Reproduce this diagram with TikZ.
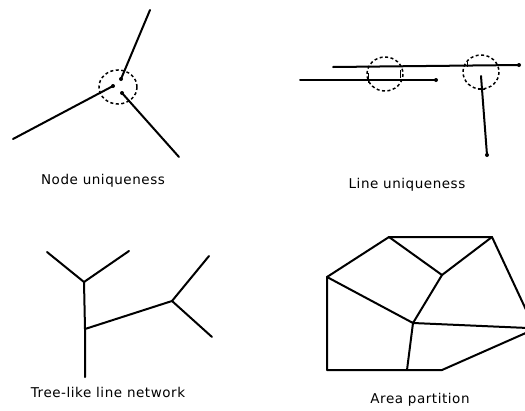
\documentclass[tikz,border=0pt]{standalone}
\usepackage{fontspec}
\setmainfont[LetterSpace=4]{DejaVu Sans}
\begin{document}
\begin{tikzpicture}[x=1pt,y=-1pt,
  edge/.style={line width=2pt,line cap=round},
  ring/.style={line width=1.5pt,dash pattern=on 3pt off 2.5pt},
  endpt/.style={circle,fill=black,inner sep=0pt,minimum size=4pt},
  tick/.style={line width=1pt},
  lbl/.style={font=\fontsize{13.5}{16}\selectfont}]
\useasboundingbox (0,0) rectangle (525,410);
\clip (0,0) rectangle (525,410);
% ---- Node uniqueness
\coordinate (n1a) at (150,10);
\node[endpt] (n1b) at (121,79) {};
\coordinate (n2a) at (13,139);
\node[endpt] (n2b) at (113,86) {};
\coordinate (n3a) at (179,157);
\node[endpt] (n3b) at (122,93) {};
\draw[edge] (n1a) -- (n1b.center);
\draw[edge] (n2a) -- (n2b.center);
\draw[edge] (n3a) -- (n3b.center);
\draw[ring] (118,87) ellipse (19 and 17);
\node[lbl] (l1) at (103,181) {Node uniqueness};
% ---- Line uniqueness
\coordinate (u1a) at (333,67);
\node[endpt] (u1b) at (519,65) {};
\coordinate (u2a) at (300,80);
\node[endpt] (u2b) at (436,80) {};
\coordinate (u3a) at (481,76);
\node[endpt] (u3b) at (487,155) {};
\draw[edge] (u1a) -- (u1b.center);
\draw[edge] (u2a) -- (u2b.center);
\draw[edge] (u3a) -- (u3b.center);
\draw[ring] (385,74) ellipse (18 and 17);
\draw[ring] (481,72) ellipse (18 and 17);
\draw[tick] (368,73) -- (368,83);
\draw[tick] (400,70) -- (400,78);
\draw[tick] (467,62) -- (467,67);
\draw[tick] (478,89) -- (485,89);
\node[lbl] (l2) at (407,185) {Line uniqueness};
% ---- Tree-like line network
\coordinate (t1) at (84,282);
\coordinate (t2) at (47,252);
\coordinate (t3) at (129,251);
\coordinate (t4) at (85,329);
\coordinate (t5) at (85,377);
\coordinate (t6) at (172,301);
\coordinate (t7) at (209,256);
\coordinate (t8) at (212,337);
\draw[edge] (t2) -- (t1) -- (t3);
\draw[edge] (t1) -- (t4) -- (t5);
\draw[edge] (t4) -- (t6);
\draw[edge] (t7) -- (t6) -- (t8);
\node[lbl] (l3) at (108,392) {Tree-like line network};
% ---- Area partition
\coordinate (a) at (327,277);
\coordinate (b) at (389,237);
\coordinate (c) at (492,237);
\coordinate (d) at (442,275);
\coordinate (e) at (413,323);
\coordinate (f) at (528,314);
\coordinate (g) at (528,328);
\coordinate (h) at (528,332);
\coordinate (i) at (407,370);
\coordinate (j) at (442,370);
\coordinate (k) at (327,370);
\draw[edge,line join=round] (f) -- (c) -- (b) -- (a) -- (k) -- (j) -- (h);
\draw[edge,line join=round] (b) -- (d) -- (c);
\draw[edge,line join=round] (a) -- (e) -- (d);
\draw[edge,line join=round] (i) -- (e) -- (g);
\node[lbl] (l4) at (420,400) {Area partition};
\end{tikzpicture}
\end{document}
